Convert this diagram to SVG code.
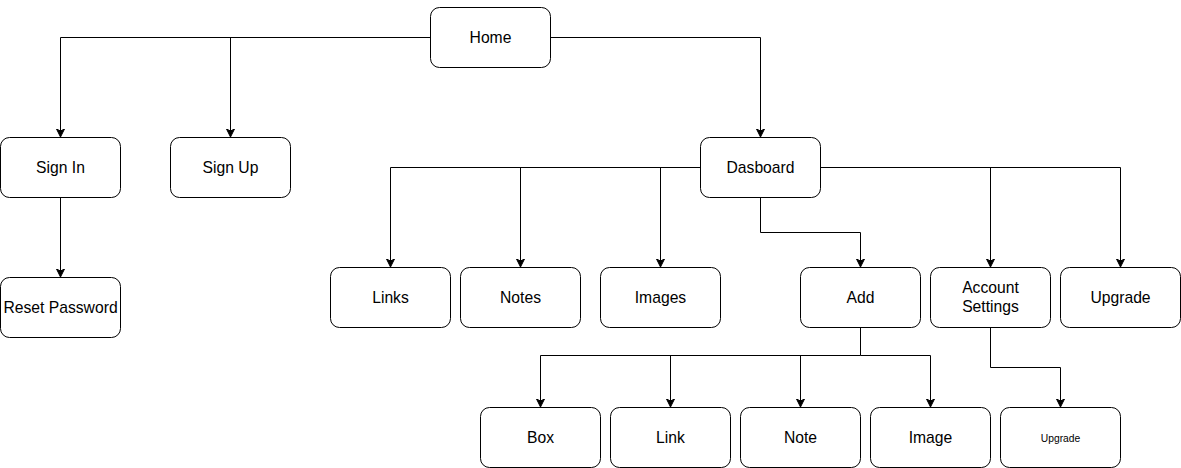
<svg xmlns="http://www.w3.org/2000/svg" width="1181" height="468" viewBox="0 0 1181 468">
<style>
.n rect{fill:#fff;stroke:#000;stroke-width:1}
.n text{font-family:"Liberation Sans",Arial,sans-serif;font-size:15.7px;fill:#000;text-anchor:middle;dominant-baseline:central}
.c path{fill:none;stroke:#000;stroke-width:1}
</style>
<defs>
<marker id="ar" markerWidth="10" markerHeight="10" refX="7" refY="4" orient="auto" markerUnits="userSpaceOnUse">
<path d="M0,0 L8,4 L0,8 L2,4 Z" fill="#000" stroke="#000" stroke-width="1"/>
</marker>
</defs>
<rect width="1181" height="468" fill="#fff"/>
<g class="c">
<path d="M430.5,37.5 H60.5 V136" marker-end="url(#ar)"/>
<path d="M230.5,37.5 V136" marker-end="url(#ar)"/>
<path d="M550.5,37.5 H760.5 V136" marker-end="url(#ar)"/>
<path d="M60.5,197.5 V276" marker-end="url(#ar)"/>
<path d="M700.5,167.5 H390.5 V266" marker-end="url(#ar)"/>
<path d="M520.5,167.5 V266" marker-end="url(#ar)"/>
<path d="M660.5,167.5 V266" marker-end="url(#ar)"/>
<path d="M760.5,197.5 V232.5 H860.5 V266" marker-end="url(#ar)"/>
<path d="M820.5,167.5 H1120.5 V266" marker-end="url(#ar)"/>
<path d="M990.5,167.5 V266" marker-end="url(#ar)"/>
<path d="M860.5,327.5 V355.5 H540.5 V406" marker-end="url(#ar)"/>
<path d="M670.5,355.5 V406" marker-end="url(#ar)"/>
<path d="M800.5,355.5 V406" marker-end="url(#ar)"/>
<path d="M860.5,355.5 H930.5 V406" marker-end="url(#ar)"/>
<path d="M990.5,327.5 V367.5 H1060.5 V406" marker-end="url(#ar)"/>
</g>
<g id="home" class="n"><rect x="430.5" y="7.5" width="120" height="60" rx="9"/><text x="490.5" y="37">Home</text></g>
<g id="signin" class="n"><rect x="0.5" y="137.5" width="120" height="60" rx="9"/><text x="60.5" y="167">Sign In</text></g>
<g id="signup" class="n"><rect x="170.5" y="137.5" width="120" height="60" rx="9"/><text x="230.5" y="167">Sign Up</text></g>
<g id="reset" class="n"><rect x="0.5" y="277.5" width="120" height="60" rx="9"/><text x="60.5" y="307">Reset Password</text></g>
<g id="dashboard" class="n"><rect x="700.5" y="137.5" width="120" height="60" rx="9"/><text x="760.5" y="167">Dasboard</text></g>
<g id="links" class="n"><rect x="330.5" y="267.5" width="120" height="60" rx="9"/><text x="390.5" y="297">Links</text></g>
<g id="notes" class="n"><rect x="460.5" y="267.5" width="120" height="60" rx="9"/><text x="520.5" y="297">Notes</text></g>
<g id="images" class="n"><rect x="600.5" y="267.5" width="120" height="60" rx="9"/><text x="660.5" y="297">Images</text></g>
<g id="add" class="n"><rect x="800.5" y="267.5" width="120" height="60" rx="9"/><text x="860.5" y="297">Add</text></g>
<g id="account" class="n"><rect x="930.5" y="267.5" width="120" height="60" rx="9"/><text x="990.5" y="287">Account</text><text x="990.5" y="306">Settings</text></g>
<g id="upgrade" class="n"><rect x="1060.5" y="267.5" width="120" height="60" rx="9"/><text x="1120.5" y="297">Upgrade</text></g>
<g id="box" class="n"><rect x="480.5" y="407.5" width="120" height="60" rx="9"/><text x="540.5" y="437">Box</text></g>
<g id="link" class="n"><rect x="610.5" y="407.5" width="120" height="60" rx="9"/><text x="670.5" y="437">Link</text></g>
<g id="note" class="n"><rect x="740.5" y="407.5" width="120" height="60" rx="9"/><text x="800.5" y="437">Note</text></g>
<g id="image" class="n"><rect x="870.5" y="407.5" width="120" height="60" rx="9"/><text x="930.5" y="437">Image</text></g>
<g id="upgrade2" class="n"><rect x="1000.5" y="407.5" width="120" height="60" rx="9"/><text x="1060.5" y="438" style="font-size:10.3px">Upgrade</text></g>
</svg>
